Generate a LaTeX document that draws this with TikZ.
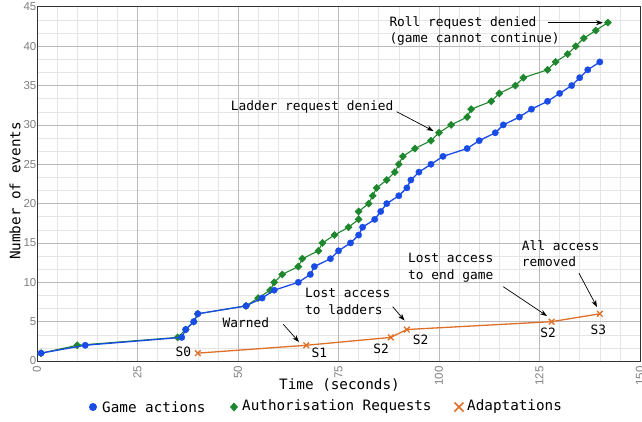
\documentclass[tikz,border=0pt]{standalone}
\usepackage{fontspec}
\setmainfont{Liberation Sans}
\newfontfamily\mymonofont{DejaVu Sans Mono}
\usetikzlibrary{arrows.meta,plotmarks}
\definecolor{gblue}{RGB}{25,75,230}
\definecolor{ggreen}{RGB}{30,135,45}
\definecolor{gorange}{RGB}{222,112,40}
\newcommand{\myannfont}{\mymonofont\fontsize{12.85}{16.3}\selectfont}
\newcommand{\mybigfont}{\mymonofont\fontsize{14.3}{17}\selectfont}
\newcommand{\mytickfont}{\fontsize{11.5}{13}\selectfont}
\begin{document}
\begin{tikzpicture}[x=1pt,y=-1pt,
  minorgrid/.style={draw=black!10, line width=0.5pt},
  majorgrid/.style={draw=black!27, line width=0.7pt},
  annot/.style={font=\myannfont, align=left, anchor=west, inner sep=0pt},
  slabel/.style={font=\myannfont, inner sep=0pt},
  annarrow/.style={draw=black, line width=0.7pt, -{Stealth[length=7pt,width=5pt]}},
  ticky/.style={font=\mytickfont, text=black!50, anchor=east, inner sep=0pt},
  tickx/.style={font=\mytickfont, text=black!50, anchor=east, rotate=90, inner sep=0pt},
  axlabel/.style={font=\mybigfont, inner sep=0pt},
  legtext/.style={font=\mybigfont, anchor=west, inner sep=0pt},
  blueser/.style={draw=gblue, line width=1.3pt},
  greenser/.style={draw=ggreen, line width=1.1pt},
  orangeser/.style={draw=gorange, line width=1.3pt},
]
\useasboundingbox (0,0) rectangle (642,421);
\fill[white] (0,0) rectangle (642,421);

\begin{scope}[xshift=37pt,yshift=-361pt,x=4.02pt,y=7.87pt]
  % grid
  \foreach \i in {5,10,...,145} \draw[minorgrid] (\i,0) -- (\i,45);
  \foreach \j in {1,...,26} \draw[minorgrid] (0,\j*5/3) -- (150,\j*5/3);
  \foreach \i in {25,50,...,125} \draw[majorgrid] (\i,0) -- (\i,45);
  \foreach \j in {5,10,...,40} \draw[majorgrid] (0,\j) -- (150,\j);
  \draw[draw=black!80, line width=0.9pt] (0,0) rectangle (150,45);
  % tick labels
  \foreach \j in {0,5,...,45} \node[ticky] (ty\j) at ([xshift=-0.5pt]0,\j) {\j};
  \foreach \i in {0,25,...,150} \node[tickx] (tx\i) at ([yshift=-5pt]\i,0) {\i};

  % authorisation requests (green)
  \draw[greenser] plot[mark=square*, mark size=2.5pt, mark options={rotate=45, fill=ggreen, draw=ggreen, line width=0.5pt}] coordinates {
    (1,1) (10,2) (35,3) (37,4) (39,5) (40,6) (52,7) (55,8) (58,9) (59,10)
    (61,11) (65,12) (66,13) (70,14) (71,15) (74,16) (77.5,17) (80,18) (80,19)
    (82.5,20) (83.5,21) (84.5,22) (87,23) (89,24) (90,25) (91,26) (94,27)
    (98,28) (100,29) (103,30) (107,31) (108,32) (113,33) (115,34) (119,35)
    (121,36) (127,37) (129,38) (132,39) (134,40) (136,41) (139,42) (142,43)};
  % game actions (blue)
  \draw[blueser] plot[mark=*, mark size=3.2pt, mark options={fill=gblue, draw=gblue, line width=0.3pt}] coordinates {
    (1,1) (12,2) (36,3) (37,4) (39,5) (40,6) (52,7) (56,8) (59,9) (65,10)
    (68,11) (69,12) (73,13) (75,14) (78,15) (80,16) (81,17) (84,18) (85.5,19)
    (87,20) (90,21) (92,22) (93,23) (95,24) (98,25) (101,26) (107,27) (110,28)
    (114,29) (116,30) (120,31) (123,32) (127,33) (130,34) (133,35) (135,36)
    (137,37) (140,38)};
  % adaptations (orange)
  \draw[orangeser] plot[mark=x, mark size=4pt, mark options={draw=gorange, line width=1.3pt}] coordinates {
    (40,1) (67,2) (88,3) (92,4) (128,5) (140,6)};
\end{scope}

% state labels
\node[slabel] (s0) at (183.3,352.3) {S0};
\node[slabel] (s1) at (319.3,353.3) {S1};
\node[slabel] (s2a) at (381,349.3) {S2};
\node[slabel] (s2b) at (420.5,340) {S2};
\node[slabel] (s2c) at (548,333.3) {S2};
\node[slabel] (s3) at (598.3,330) {S3};

% annotations
\node[annot] (roll) at (389.3,30.8) {Roll request denied\\(game cannot continue)};
\coordinate (rollA) at (548,22.7);
\coordinate (rollB) at (603,22.7);
\draw[annarrow] (rollA) -- (rollB);

\node[annot] (ladder) at (230.7,107.3) {Ladder request denied};
\coordinate (ladderA) at (396.7,111.7);
\coordinate (ladderB) at (433.5,131);
\draw[annarrow] (ladderA) -- (ladderB);

\node[annot] (warned) at (222.5,322.7) {Warned};
\coordinate (warnA) at (283.3,324.3);
\coordinate (warnB) at (299,342);
\draw[annarrow] (warnA) -- (warnB);

\node[annot] (lostlad) at (305,301.3) {Lost access\\to ladders};
\coordinate (lostladA) at (392.7,306.7);
\coordinate (lostladB) at (404.5,320.5);
\draw[annarrow] (lostladA) -- (lostladB);

\node[annot] (lostend) at (408,267.6) {Lost access\\to end game};
\coordinate (lostendA) at (503.3,286.7);
\coordinate (lostendB) at (547,316);
\draw[annarrow] (lostendA) -- (lostendB);

\node[annot] (allacc) at (521.7,253.7) {All access\\removed};
\coordinate (allaccA) at (579,273.3);
\coordinate (allaccB) at (597,307);
\draw[annarrow] (allaccA) -- (allaccB);

% axis labels
\node[axlabel] (xlabel) at (339.5,385) {Time (seconds)};
\node[axlabel, rotate=90] (ylabel) at (15,191) {Number of events};

% legend
\fill[gblue] (93,407) circle (4pt);
\node[legtext] (leg1) at (102,407) {Game actions};
\fill[ggreen] (234,402.5) -- (238,407) -- (234,411.5) -- (230,407) -- cycle;
\node[legtext] (leg2) at (242,407) {Authorisation Requests};
\draw[gorange, line width=1.5pt] (454.5,402.5) -- (463.5,411.5) (454.5,411.5) -- (463.5,402.5);
\node[legtext] (leg3) at (467,407) {Adaptations};
\end{tikzpicture}
\end{document}
